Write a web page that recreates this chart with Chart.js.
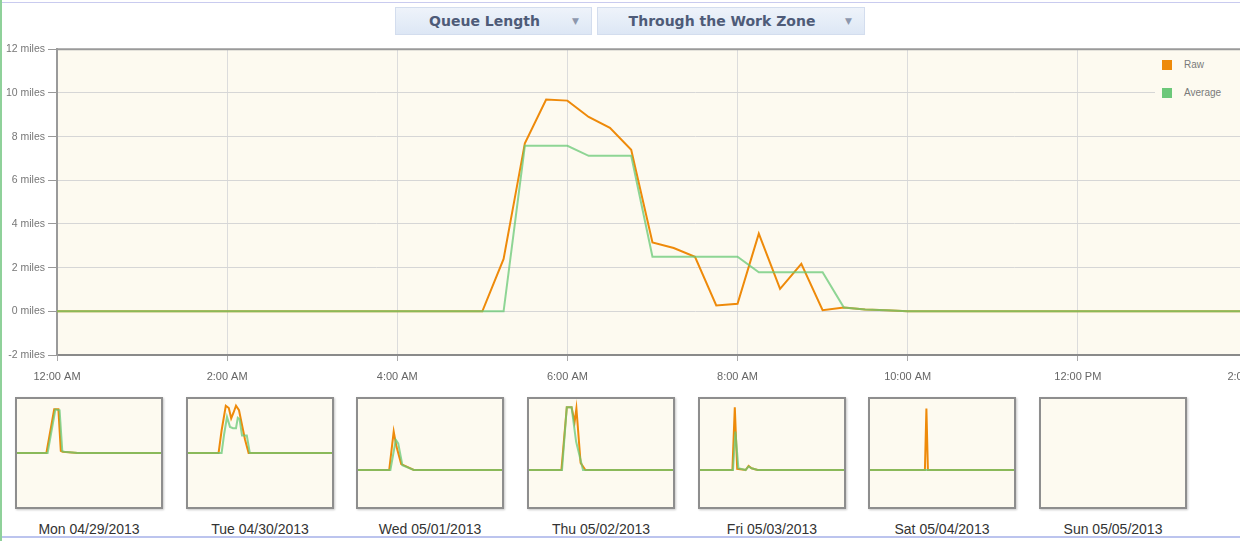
<!DOCTYPE html>
<html>
<head>
<meta charset="utf-8">
<title>Queue Length - Through the Work Zone</title>
<script src="https://cdn.jsdelivr.net/npm/chart.js@4.4.0/dist/chart.umd.min.js"></script>
<style>
    html, body { margin: 0; padding: 0; width: 1240px; height: 541px; overflow: hidden; background: #fff; }
    body { position: relative; font-family: 'Liberation Sans', Arial, sans-serif; }
    .frame-top { position: absolute; left: 0; top: 2px; width: 1240px; height: 1px; background: #c9cbef; }
    .frame-bottom { position: absolute; left: 0; top: 536px; width: 1240px; height: 2px; background: #bcc4ee; }
    .frame-left { position: absolute; left: 0; top: 0; width: 2px; height: 541px; background: #8fd19a; }
    .dropdown {
        position: absolute; top: 7px; height: 28px; box-sizing: border-box;
        border: 1px solid #d3ddee; background: linear-gradient(#eef3fa, #dde7f5);
        font: bold 14px 'DejaVu Sans', Verdana, sans-serif; color: #4e5b78;
        line-height: 26px; text-align: center; padding-right: 18px;
    }
    .dropdown .arrow { position: absolute; right: 12px; top: 0; font-size: 9px; color: #8d97ad; font-weight: normal; }
    #mainWrap { position: absolute; left: 0; top: 40px; }
    .legend { position: absolute; left: 1155px; top: 52px; width: 85px; height: 50px; background: #fdfaf0; }
    .legend .item { position: absolute; left: 7px; height: 12px; font-size: 10px; color: #7a7a7a; line-height: 12px; }
    .legend .sw { position: absolute; left: 0; top: 1px; width: 10px; height: 10px; }
    .legend .txt { position: absolute; left: 22px; top: 0; white-space: nowrap; }
    .mini { position: absolute; top: 397px; width: 148px; height: 112px; box-sizing: border-box;
            border: 2px solid #8e8e8e; background: #fdfaf0; box-shadow: 1px 1px 2px #c8c8c8; }
    .mini canvas { display: block; }
    .mini-label { position: absolute; top: 521px; width: 170px; text-align: center; font-size: 14px; color: #333; }
</style>
</head>
<body>
<div class="frame-top"></div>
<div class="frame-bottom"></div>
<div class="frame-left"></div>

<div class="dropdown" style="left:395px;width:197px;">Queue Length<span class="arrow">&#9660;</span></div>
<div class="dropdown" style="left:597px;width:268px;">Through the Work Zone<span class="arrow">&#9660;</span></div>

<div id="mainWrap"><canvas id="queueChart" width="1333" height="350"></canvas></div>

<div class="legend">
    <div class="item" style="top:7px;"><div class="sw" style="background:#ee8a0a;"></div><div class="txt">Raw</div></div>
    <div class="item" style="top:35px;"><div class="sw" style="background:#6cc87a;"></div><div class="txt">Average</div></div>
</div>

<div id="minis"></div>

<script>
// Main day (Mon 04/29/2013), hours since midnight
const hours = [0, 5, 5.25, 5.5, 5.75, 6, 6.25, 6.5, 6.75, 7, 7.25, 7.5, 7.75, 8, 8.25, 8.5, 8.75, 9, 9.25, 9.5, 9.75, 10, 24];
const rawMiles = [0, 0, 2.4, 7.7, 9.7, 9.65, 8.9, 8.4, 7.4, 3.15, 2.9, 2.5, 0.27, 0.35, 3.56, 1.03, 2.17, 0.05, 0.17, 0.08, 0.05, 0, 0];
const avgMiles = [0, 0, 0, 7.58, 7.58, 7.58, 7.12, 7.12, 7.12, 2.5, 2.5, 2.5, 2.5, 2.5, 1.79, 1.79, 1.79, 1.79, 0.17, 0.08, 0.05, 0, 0];

const yTicks = [-2, 0, 2, 4, 6, 8, 10, 12];
const xTickHours = [0, 2, 4, 6, 8, 10, 12, 14];
const xTickLabels = ['12:00 AM', '2:00 AM', '4:00 AM', '6:00 AM', '8:00 AM', '10:00 AM', '12:00 PM', '2:00 PM'];

// Week thumbnails
const dayLabels = ['Mon 04/29/2013', 'Tue 04/30/2013', 'Wed 05/01/2013', 'Thu 05/02/2013', 'Fri 05/03/2013', 'Sat 05/04/2013', 'Sun 05/05/2013'];
const monRawHours = [0, 4.9, 6.2, 6.9, 7.3, 7.6, 10.1, 24];
const monRawMiles = [0, 0, 9.7, 9.7, 0.5, 0.3, 0, 0];
const monAvgHours = [0, 5.1, 6.4, 7.1, 7.55, 7.9, 10.1, 24];
const monAvgMiles = [0, 0, 9.7, 9.5, 0.4, 0.3, 0, 0];
const tueRawHours = [0, 5.1, 5.6, 6.3, 6.8, 7.2, 7.6, 8.0, 8.5, 8.9, 9.5, 10.1, 24];
const tueRawMiles = [0, 0, 5, 10.5, 10, 7.7, 9, 10.5, 9.5, 6.9, 3, 0, 0];
const tueAvgHours = [0, 5.6, 6.0, 6.5, 7.0, 7.5, 8.0, 8.3, 8.6, 9.0, 9.8, 10.3, 24];
const tueAvgMiles = [0, 0, 4, 8, 5.8, 5.5, 5.5, 7.8, 7.5, 3.9, 3.9, 0, 0];
const wedRawHours = [0, 5.2, 5.95, 6.4, 7.2, 9.3, 24];
const wedRawMiles = [0, 0, 6.5, 4, 1, 0, 0];
const wedAvgHours = [0, 5.4, 6.3, 6.7, 7.4, 9.3, 24];
const wedAvgMiles = [0, 0, 5.1, 4.5, 0.8, 0, 0];
const thuRawHours = [0, 5.4, 6.3, 7.1, 7.6, 7.9, 8.6, 9.4, 24];
const thuRawMiles = [0, 0, 10.6, 10.6, 8.1, 10.4, 1.2, 0, 0];
const thuAvgHours = [0, 5.5, 6.3, 7.1, 7.85, 9.0, 24];
const thuAvgMiles = [0, 0, 10.6, 10.6, 4.8, 0, 0];
const friRawHours = [0, 5.4, 5.8, 6.2, 7.6, 8.1, 8.6, 9.6, 24];
const friRawMiles = [0, 0, 10.6, 0.2, 0, 0.7, 0.3, 0, 0];
const friAvgHours = [0, 5.5, 5.9, 6.4, 7.6, 8.1, 8.6, 9.6, 24];
const friAvgMiles = [0, 0, 6.5, 0.3, 0, 0.6, 0.3, 0, 0];
const satRawHours = [0, 9.15, 9.4, 9.65, 24];
const satRawMiles = [0, 0, 10.4, 0, 0];
const satAvgHours = [0, 24];
const satAvgMiles = [0, 0];
const miniYMin = [-12, -12, -6.25, -6.25, -6.25, -6.25, -6.25];
const miniYMax = [12, 12, 12, 12, 12, 12, 12];

const RAW_COLOR = '#ee8a0a';
const AVG_COLOR = 'rgba(104, 200, 118, 0.75)';
const PLOT_BG = '#fdfaf0';

function toPoints(xs, ys) {
    return xs.map((x, i) => ({ x: x, y: ys[i] }));
}

const plotBackground = {
    id: 'plotBackground',
    beforeDraw(chart) {
        const { ctx, chartArea: a } = chart;
        ctx.save();
        ctx.fillStyle = PLOT_BG;
        ctx.fillRect(a.left, a.top, a.right - a.left, a.bottom - a.top);
        ctx.restore();
    },
    beforeDatasetsDraw(chart) {
        if (chart.canvas.id !== 'queueChart') return;
        const { ctx, chartArea: a } = chart;
        ctx.save();
        ctx.strokeStyle = '#9a9a9a';
        ctx.lineWidth = 2;
        ctx.beginPath();
        ctx.moveTo(a.left, a.top);
        ctx.lineTo(a.right, a.top);
        ctx.stroke();
        ctx.restore();
    }
};

new Chart(document.getElementById('queueChart'), {
    type: 'line',
    data: {
        datasets: [{
            label: 'Average',
            data: toPoints(hours, avgMiles),
            borderColor: AVG_COLOR,
            borderWidth: 2,
            pointRadius: 0,
            tension: 0,
            order: 1
        }, {
            label: 'Raw',
            data: toPoints(hours, rawMiles),
            borderColor: RAW_COLOR,
            borderWidth: 2,
            pointRadius: 0,
            tension: 0,
            order: 2
        }]
    },
    options: {
        responsive: false,
        animation: false,
        layout: { padding: { top: 7, right: 0, bottom: 0, left: 0 } },
        plugins: {
            legend: { display: false },
            tooltip: { enabled: false }
        },
        scales: {
            x: {
                type: 'linear',
                min: 0,
                max: 15,
                afterFit: (scale) => { scale.height = 35; },
                afterBuildTicks: (scale) => { scale.ticks = xTickHours.map(v => ({ value: v })); },
                ticks: {
                    callback: (v) => xTickLabels[xTickHours.indexOf(v)] || '',
                    color: '#666',
                    font: { family: "'Liberation Sans Narrow', 'Liberation Sans', sans-serif", size: 11 },
                    padding: 9,
                    maxRotation: 0
                },
                grid: { color: '#dcdcdc', tickColor: '#aaa', tickLength: 6 },
                border: { color: '#8a8a8a', width: 2 }
            },
            y: {
                min: -2,
                max: 12,
                afterFit: (scale) => { scale.width = 57; },
                afterBuildTicks: (scale) => { scale.ticks = yTicks.map(v => ({ value: v })); },
                ticks: {
                    callback: (v) => v + ' miles',
                    color: '#777',
                    font: { family: "'Liberation Sans', sans-serif", size: 10.5 },
                    padding: 3
                },
                grid: { color: '#d6d6d6', tickColor: '#999', tickLength: 9 },
                border: { color: '#9a9a9a', width: 2 }
            }
        }
    },
    plugins: [plotBackground]
});

const weekRaw = [
    [monRawHours, monRawMiles], [tueRawHours, tueRawMiles], [wedRawHours, wedRawMiles],
    [thuRawHours, thuRawMiles], [friRawHours, friRawMiles], [satRawHours, satRawMiles], null
];
const weekAvg = [
    [monAvgHours, monAvgMiles], [tueAvgHours, tueAvgMiles], [wedAvgHours, wedAvgMiles],
    [thuAvgHours, thuAvgMiles], [friAvgHours, friAvgMiles], [satAvgHours, satAvgMiles], null
];

const minis = document.getElementById('minis');
dayLabels.forEach((label, i) => {
    const left = Math.round(15 + i * 170.67);
    const box = document.createElement('div');
    box.className = 'mini';
    box.style.left = left + 'px';
    const cv = document.createElement('canvas');
    cv.width = 144;
    cv.height = 108;
    box.appendChild(cv);
    minis.appendChild(box);

    const lab = document.createElement('div');
    lab.className = 'mini-label';
    lab.style.left = (left + 74 - 85) + 'px';
    lab.textContent = label;
    minis.appendChild(lab);

    const datasets = [];
    if (weekAvg[i]) {
        datasets.push({ data: toPoints(weekAvg[i][0], weekAvg[i][1]), borderColor: AVG_COLOR, borderWidth: 2, pointRadius: 0, tension: 0, order: 1 });
    }
    if (weekRaw[i]) {
        datasets.push({ data: toPoints(weekRaw[i][0], weekRaw[i][1]), borderColor: RAW_COLOR, borderWidth: 2, pointRadius: 0, tension: 0, order: 2 });
    }

    new Chart(cv, {
        type: 'line',
        data: { datasets: datasets },
        options: {
            responsive: false,
            animation: false,
            layout: { padding: 0 },
            plugins: { legend: { display: false }, tooltip: { enabled: false } },
            scales: {
                x: { type: 'linear', min: 0, max: 24, display: false },
                y: { min: miniYMin[i], max: miniYMax[i], display: false }
            }
        }
    });
});
</script>
</body>
</html>
